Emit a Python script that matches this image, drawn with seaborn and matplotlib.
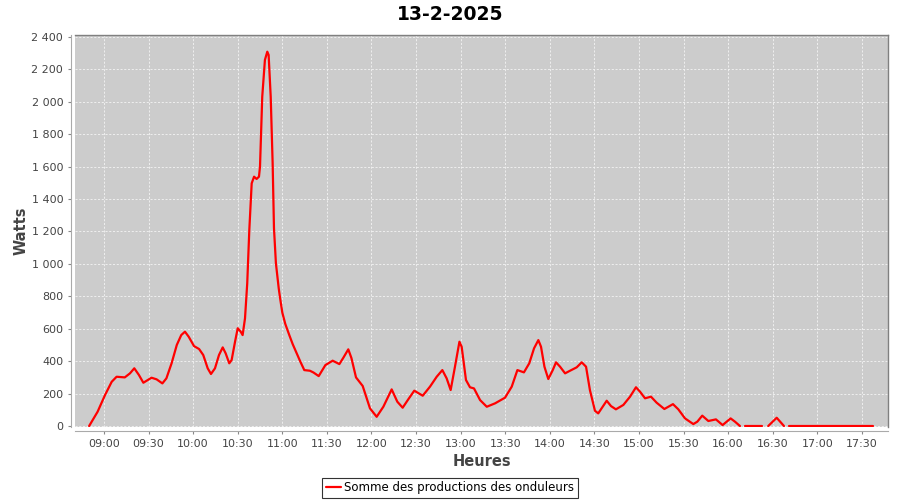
import matplotlib
matplotlib.use("Agg")
import matplotlib.pyplot as plt
from matplotlib.lines import Line2D
from matplotlib.ticker import FuncFormatter, FixedLocator
import numpy as np
import pandas as pd
import seaborn as sns

# minutes after 09:00 and power in watts
minutes = [-10, -4.3, 0.7, 5.2, 8.5, 14, 17.5, 20.4, 23.5, 26.5, 32, 35.4, 39.3, 42,
           45.5, 49, 52, 54.5, 57, 60.6, 64, 66.8, 69.8, 72, 74.7, 77.4, 79.9, 81.9,
           84.3, 85.9, 88.2, 90, 92, 93.3, 94.9, 96.4, 97.8, 99.4, 101, 102.7, 104.3,
           105, 106.5, 108.3, 109.9, 110.8, 112.2, 113.5, 114.4, 115.7, 117.6, 118.5,
           120, 122, 124.7, 127, 129.2, 132, 134.8, 138.6, 141, 144.5, 149, 153.9,
           158.4, 161, 164.4, 166.5, 169.6, 174.1, 179, 183.5, 188, 193.6, 197.4, 201,
           204.8, 208.8, 214.5, 219.4, 223.9, 227.7, 230.6, 233.3, 236.2, 239.2, 240.7,
           243.6, 246.3, 249, 253.1, 257.6, 263.2, 269.9, 274.4, 278.2, 282.6, 286.2,
           289.4, 292.3, 294.1, 296.4, 299, 302, 304.2, 306.9, 310.3, 313.6, 318.1,
           321.5, 324.4, 327, 330.4, 332.6, 335.6, 338.3, 341.2, 344.5, 349.5, 354,
           358, 360.7, 364.1, 368.1, 371.9, 377.1, 382.9, 386.5, 391, 396.6, 399.3,
           402.6, 406.7, 411.8, 416.3, 421.7, 424.6, 428]
watts = [0, 88, 191, 273, 304, 300, 325, 356, 315, 267, 298, 288, 263, 294,
         387, 500, 561, 582, 551, 493, 475, 438, 356, 321, 356, 438, 485, 448,
         387, 407, 520, 603, 582, 561, 664, 880, 1209, 1497, 1538, 1524, 1538,
         1600, 2031, 2258, 2309, 2289, 2031, 1621, 1220, 1004, 849, 790,
         700, 630, 561, 505, 459, 400, 345, 341, 330, 308, 376, 403,
         382, 420, 473, 420, 300, 247, 109, 57, 119, 226, 150, 113,
         165, 218, 187, 243, 304, 345, 294, 222, 366, 520, 489,
         284, 239, 232, 160, 119, 140, 175, 243, 345, 331, 387,
         479, 530, 489, 366, 290, 345, 393, 366, 325, 341, 362,
         393, 366, 222, 94, 78, 119, 156, 123, 103, 130, 181,
         239, 212, 171, 181, 144, 105, 135, 103, 47, 12, 27,
         64, 31, 41, 6, 47, 27, 0]

# later pieces of the series, separated by short gaps
late_minutes = [[431.4, 442.8], [447, 452.7, 457.6], [461, 517.5]]
late_watts = [[0, 0], [0, 51, 0], [0, 0]]

tick_minutes = [0, 30, 60, 90, 120, 150, 180, 210, 240, 270, 300, 330, 360, 390,
                420, 450, 480, 510]
tick_labels = ["09:00", "09:30", "10:00", "10:30", "11:00", "11:30", "12:00", "12:30",
               "13:00", "13:30", "14:00", "14:30", "15:00", "15:30", "16:00", "16:30",
               "17:00", "17:30"]

frames = [pd.DataFrame({"t": minutes, "w": watts, "seg": 0})]
for i, (m, w) in enumerate(zip(late_minutes, late_watts)):
    frames.append(pd.DataFrame({"t": m, "w": w, "seg": i + 1}))
df = pd.concat(frames, ignore_index=True)

sns.set_style("ticks")
plt.rcParams["font.family"] = ["DejaVu Sans"]

fig = plt.figure(figsize=(9, 5), dpi=100)
ax = fig.add_axes([75 / 900, 73 / 500, 813 / 900, 392 / 500])
ax.set_facecolor("#cccccc")

sns.lineplot(data=df, x="t", y="w", units="seg", estimator=None, color="#ff0000",
             linewidth=1.6, ax=ax, legend=False)

ax.set_xlim(-19.5, 527.6)
ax.set_ylim(-6, 2412)
ax.xaxis.set_major_locator(FixedLocator(tick_minutes))
ax.set_xticklabels(tick_labels)
ax.set_yticks(range(0, 2401, 200))
ax.yaxis.set_major_formatter(FuncFormatter(lambda v, p: f"{int(v):,}".replace(",", " ")))
ax.grid(True, color="#f4f4f4", linestyle=(0, (2.5, 2)), linewidth=0.6)
ax.tick_params(colors="#888888", labelcolor="#444444", labelsize=8, length=2, width=0.8)

for s in ["top", "right"]:
    ax.spines[s].set_color("#808080")
    ax.spines[s].set_linewidth(1)
for s in ["left", "bottom"]:
    ax.spines[s].set_position(("outward", 3))
    ax.spines[s].set_color("#aaaaaa")
    ax.spines[s].set_linewidth(0.8)

ax.set_xlabel("Heures", fontsize=10.5, fontweight="bold", color="#444444", labelpad=4)
ax.set_ylabel("Watts", fontsize=10.5, fontweight="bold", color="#444444", labelpad=2)
fig.text(0.5, 0.972, "13-2-2025", ha="center", va="center", fontsize=13.5,
         fontweight="bold", color="black")

handle = Line2D([], [], color="#ff0000", linewidth=1.6)
leg = fig.legend([handle], ["Somme des productions des onduleurs"], loc="center",
                 bbox_to_anchor=(0.5, 0.024), fontsize=8.5, frameon=True, fancybox=False,
                 handlelength=1.3, handletextpad=0.3, borderpad=0.3, edgecolor="black")
leg.get_frame().set_linewidth(0.8)
for txt in leg.get_texts():
    txt.set_color("black")

fig.savefig("out.png", dpi=100)
